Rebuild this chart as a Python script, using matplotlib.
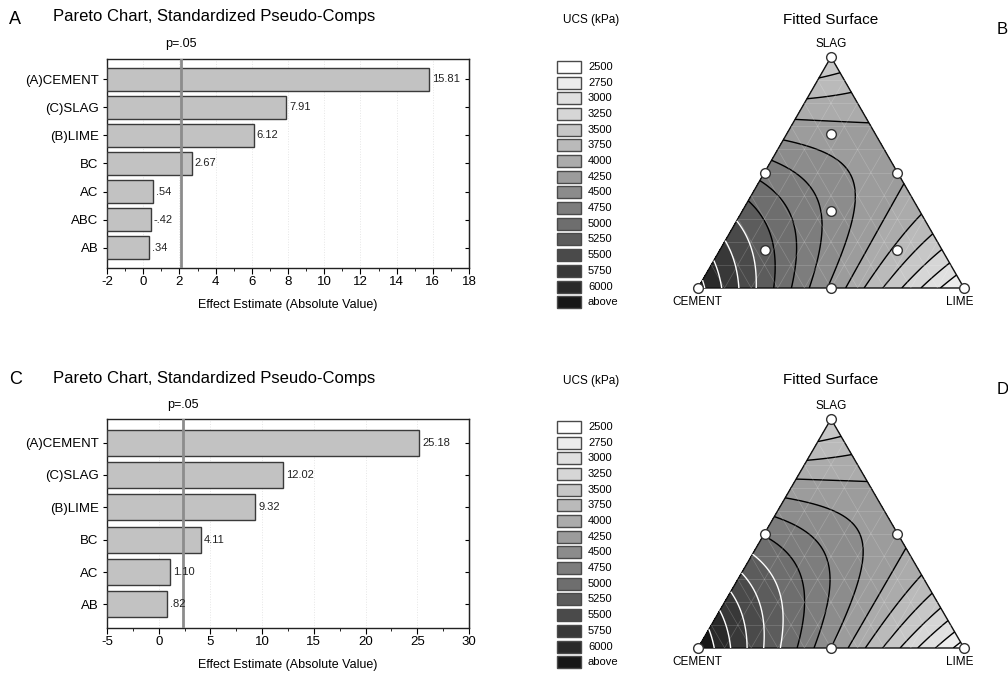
import numpy as np
import matplotlib
matplotlib.use("Agg")
import matplotlib.pyplot as plt
import matplotlib.tri as mtri
from matplotlib.patches import Rectangle, Polygon

plt.rcParams['font.family'] = ['Liberation Sans', 'DejaVu Sans']

# ---------------- data ----------------
pareto_a_terms = ['(A)CEMENT', '(C)SLAG', '(B)LIME', 'BC', 'AC', 'ABC', 'AB']
pareto_a_effects = [15.81, 7.91, 6.12, 2.67, 0.54, -0.42, 0.34]
pareto_a_pcrit = 2.08
pareto_a_xticks = [-2, 0, 2, 4, 6, 8, 10, 12, 14, 16, 18]

pareto_c_terms = ['(A)CEMENT', '(C)SLAG', '(B)LIME', 'BC', 'AC', 'AB']
pareto_c_effects = [25.18, 12.02, 9.32, 4.11, 1.10, 0.82]
pareto_c_pcrit = 2.33
pareto_c_xticks = [-5, 0, 5, 10, 15, 20, 25, 30]

ucs_levels = [2500, 2750, 3000, 3250, 3500, 3750, 4000, 4250, 4500, 4750,
              5000, 5250, 5500, 5750, 6000]
ucs_labels = [str(v) for v in ucs_levels] + ['above']
ucs_grays = [1.00, 0.93, 0.88, 0.84, 0.78, 0.73, 0.67, 0.61, 0.55, 0.49,
             0.43, 0.36, 0.29, 0.22, 0.16, 0.09]

# fitted Scheffe model coefficients (cement, lime, slag, CL, CS, LS, CLS)
surface_b_coefs = [6100, 2450, 3250, -300, -100, 4800, 0]
surface_d_coefs = [6250, 2350, 3200, -200, 0, 5200, 0]
white_from_b = 5250
white_from_d = 5000

# design points (cement, lime, slag fractions)
design_b = [(1, 0, 0), (0, 1, 0), (0, 0, 1), (.5, .5, 0), (.5, 0, .5), (0, .5, .5),
            (1/3, 1/3, 1/3), (2/3, 1/6, 1/6), (1/6, 2/3, 1/6), (1/6, 1/6, 2/3)]
design_d = [(1, 0, 0), (0, 1, 0), (0, 0, 1), (.5, .5, 0), (.5, 0, .5), (0, .5, .5)]

W, H = 1008, 677
fig = plt.figure(figsize=(W / 100, H / 100), dpi=100)


def rect(l, t, r, b):
    return [l / W, 1 - b / H, (r - l) / W, (b - t) / H]


def fx(x):
    return x / W


def fy(y):
    return 1 - y / H


def fmt(v):
    s = f"{v:.2f}"
    if s.startswith('0.'):
        s = s[1:]
    elif s.startswith('-0.'):
        s = '-' + s[2:]
    return s


def pareto(box, terms, effects, pcrit, xticks, letter, ltop):
    ax = fig.add_axes(rect(*box))
    n = len(terms)
    xmin, xmax = xticks[0], xticks[-1]
    pos = np.arange(n)
    vals = np.abs(np.array(effects))
    ax.barh(pos, vals - xmin, left=xmin, height=0.8, color='#c2c2c2',
            edgecolor='#3a3a3a', linewidth=1.0, zorder=3)
    for p, v, e in zip(pos, vals, effects):
        ax.text(v + (xmax - xmin) * 0.008, p, fmt(e), va='center', ha='left',
                fontsize=8, color='#222222', zorder=5)
    ax.axvline(pcrit, color='#8c8c8c', lw=2, zorder=4)
    ax.set_xlim(xmin, xmax)
    ax.set_ylim(n - 0.27, -0.73)
    ax.set_yticks(pos)
    ax.set_yticklabels(terms, fontsize=9.5)
    ax.set_xticks(xticks)
    ax.set_xticklabels([str(t) for t in xticks], fontsize=9.5)
    step = xticks[1] - xticks[0]
    ax.set_xticks(np.arange(xmin + step / 2, xmax, step), minor=True)
    ax.tick_params(axis='x', which='major', length=4, width=0.8, pad=2)
    ax.tick_params(axis='x', which='minor', length=2, width=0.6)
    ax.tick_params(axis='y', length=3, width=0.8, pad=3)
    sec = ax.secondary_yaxis('right')
    sec.set_yticks(pos)
    sec.set_yticklabels([])
    sec.tick_params(direction='in', length=3, width=0.8)
    ax.grid(axis='x', color='#e6e6e6', linestyle=':', lw=0.7, zorder=0)
    for s in ax.spines.values():
        s.set_linewidth(1.0)
        s.set_color('#222222')
    ax.set_xlabel('Effect Estimate (Absolute Value)', fontsize=9, labelpad=8)
    l, t, r, b = box
    xpx = l + (pcrit - xmin) / (xmax - xmin) * (r - l)
    fig.text(fx(xpx), fy(ltop + 27), 'p=.05', ha='center', va='center', fontsize=9)
    fig.text(fx(53), fy(ltop), 'Pareto Chart, Standardized Pseudo-Comps',
             ha='left', va='center', fontsize=12)
    fig.text(fx(9), fy(ltop + 2), letter, ha='left', va='center', fontsize=13)
    return ax


pareto((107, 59, 469, 268), pareto_a_terms, pareto_a_effects, pareto_a_pcrit,
       pareto_a_xticks, 'A', 17)
pareto((107, 419, 469, 628), pareto_c_terms, pareto_c_effects, pareto_c_pcrit,
       pareto_c_xticks, 'C', 378)


def legend(y0, title_y):
    fig.text(fx(591), fy(title_y), 'UCS (kPa)', ha='center', va='center', fontsize=8.5)
    step = 15.68
    for i, (lab, g) in enumerate(zip(ucs_labels, ucs_grays)):
        yc = y0 + i * step
        fig.add_artist(Rectangle((fx(557), fy(yc + 6)), 24 / W, 12 / H,
                                 transform=fig.transFigure, facecolor=str(g),
                                 edgecolor='#4a4a4a', lw=1.0))
        fig.text(fx(588), fy(yc), lab, ha='left', va='center', fontsize=8)


legend(67, 20)
legend(427, 381)

h = np.sqrt(3) / 2


def tern_xy(c, l, s):
    return l + s / 2, s * h


def surface(box, coefs, design, letter, title_y, white_from):
    ax = fig.add_axes(rect(*box))
    ax.set_xlim(0, 1)
    ax.set_ylim(0, h)
    ax.axis('off')
    n = 140
    cs, ls, ss = [], [], []
    for i in range(n + 1):
        for j in range(n + 1 - i):
            cs.append(i / n)
            ls.append(j / n)
            ss.append((n - i - j) / n)
    c = np.array(cs); l = np.array(ls); s = np.array(ss)
    b1, b2, b3, b12, b13, b23, b123 = coefs
    z = (b1 * c + b2 * l + b3 * s + b12 * c * l + b13 * c * s + b23 * l * s
         + b123 * c * l * s)
    x, y = tern_xy(c, l, s)
    tri = mtri.Triangulation(x, y)
    lev = [-1e9] + ucs_levels + [1e9]
    ax.tricontourf(tri, z, levels=lev, colors=[str(g) for g in ucs_grays])
    lcols = ['white' if v >= white_from else 'black' for v in ucs_levels]
    ax.tricontour(tri, z, levels=ucs_levels, colors=lcols, linewidths=1.0)
    for k in range(1, 10):
        f = k / 10
        for a, bpt in [((f, 0), (f / 2, f * h)),
                       ((f, 0), ((1 + f) / 2, (1 - f) * h)),
                       ((f / 2, f * h), (1 - f / 2, f * h))]:
            ax.plot([a[0], bpt[0]], [a[1], bpt[1]], color='white', lw=0.5, alpha=0.2)
    ax.add_patch(Polygon([(0, 0), (1, 0), (0.5, h)], closed=True, fill=False,
                         edgecolor='#111111', lw=1.0, clip_on=False))
    pts = np.array(design)
    px, py = tern_xy(pts[:, 0], pts[:, 1], pts[:, 2])
    ax.plot(px, py, 'o', ms=7, mfc='white', mec='#333333', mew=1.0,
            clip_on=False, zorder=10)
    l0, t0, r0, b0 = box
    fig.text(fx((l0 + r0) / 2), fy(t0 - 13), 'SLAG', ha='center', va='center', fontsize=8.5)
    fig.text(fx(l0 - 1), fy(b0 + 14), 'CEMENT', ha='center', va='center', fontsize=8.5)
    fig.text(fx(r0 - 4), fy(b0 + 14), 'LIME', ha='center', va='center', fontsize=8.5)
    fig.text(fx((l0 + r0) / 2), fy(title_y), 'Fitted Surface', ha='center',
             va='center', fontsize=11)
    fig.text(fx(997), fy(title_y + 10), letter, ha='left', va='center', fontsize=12)


surface((698, 57, 964, 288), surface_b_coefs, design_b, 'B', 20, white_from_b)
surface((698, 419, 964, 648), surface_d_coefs, design_d, 'D', 380, white_from_d)

fig.savefig('out.png', dpi=100)
